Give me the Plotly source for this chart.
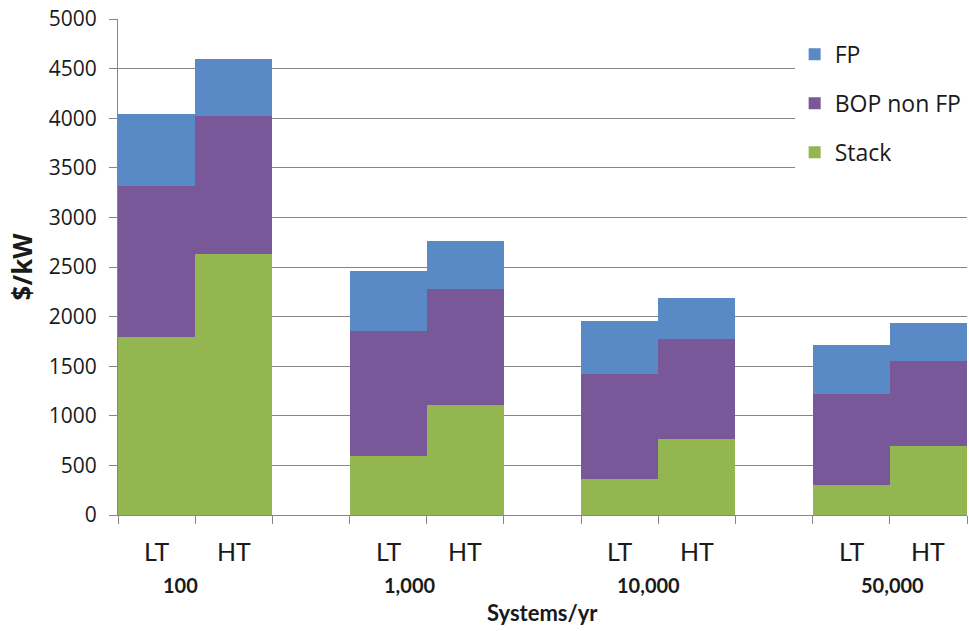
import plotly.graph_objects as go

groups = ["100", "1,000", "10,000", "50,000"]
subs = ["LT", "HT"]
stack = [1790, 2630, 590, 1110, 365, 770, 305, 695]
bop = [1530, 1390, 1265, 1168, 1059, 1001, 918, 854]
fp = [720, 580, 605, 487, 528, 419, 494, 389]
yticks = [0, 500, 1000, 1500, 2000, 2500, 3000, 3500, 4000, 4500, 5000]

# bar slots: each group takes 2 slots plus one empty slot
xpos = [3 * g + s for g in range(len(groups)) for s in range(len(subs))]

fig = go.Figure()
series = [("Stack", stack, "#94B650", 3), ("BOP non FP", bop, "#785899", 2), ("FP", fp, "#5A8AC6", 1)]
for name, vals, col, rank in series:
    fig.add_trace(go.Bar(x=xpos, y=vals, name=name, legendgroup=name, legendrank=rank,
                         marker=dict(color=col, line=dict(width=0)),
                         width=1.0))

tick_font = dict(family="Open Sans, Noto Sans, sans-serif", size=21, color="#1a1a1a")
fig.update_layout(
    width=969, height=631,
    margin=dict(l=118, r=2, t=19, b=116),
    barmode="stack", bargap=0,
    plot_bgcolor="white", paper_bgcolor="white",
    xaxis=dict(range=[-0.5, 3 * len(groups) - 1.5],
               tickvals=[i - 0.5 for i in range(3 * len(groups))],
               ticktext=["" for _ in range(3 * len(groups))],
               ticks="outside", ticklen=8, tickcolor="#868686",
               showgrid=False, showline=True, linecolor="#868686", linewidth=1,
               zeroline=False, automargin=False),
    yaxis=dict(range=[0, 5000], tickvals=yticks, ticks="outside", ticklen=8,
               tickcolor="#868686", showgrid=True, gridcolor="#868686", gridwidth=1,
               showline=True, linecolor="#868686", linewidth=1, zeroline=False,
               tickfont=tick_font, automargin=False, ticklabelstandoff=8,
               title=dict(text="<b>$/kW</b>", font=dict(family="Open Sans, sans-serif", size=26, color="#1a1a1a"),
                          standoff=8)),
    legend=dict(x=0.797, y=0.972, xanchor="left", yanchor="top",
                bgcolor="white", traceorder="grouped", tracegroupgap=16,
                font=dict(family="Open Sans, Noto Sans, sans-serif", size=23, color="#1a1a1a"),
                itemwidth=30),
    showlegend=True,
)

for i, x in enumerate(xpos):
    fig.add_annotation(x=x, y=-0.073, xref="x", yref="paper", text=subs[i % 2],
                       showarrow=False, font=dict(family="Lato, sans-serif", size=25, color="#1a1a1a"),
                       yanchor="middle")

label_shift = [-15, -17, -10, 3]
for g, lab in enumerate(groups):
    fig.add_annotation(x=3 * g + 0.5, y=-0.141, xref="x", yref="paper", text="<b>" + lab + "</b>",
                       xshift=label_shift[g],
                       showarrow=False, font=dict(family="Lato, sans-serif", size=20, color="#1a1a1a"),
                       yanchor="middle")

fig.add_annotation(x=0.5, y=-0.196, xref="paper", yref="paper", text="<b>Systems/yr</b>",
                   showarrow=False, font=dict(family="Lato, sans-serif", size=22, color="#1a1a1a"),
                   yanchor="middle")

fig.write_html("out.html", config={"displayModeBar": False},
               post_script="document.body.style.margin='0';")
